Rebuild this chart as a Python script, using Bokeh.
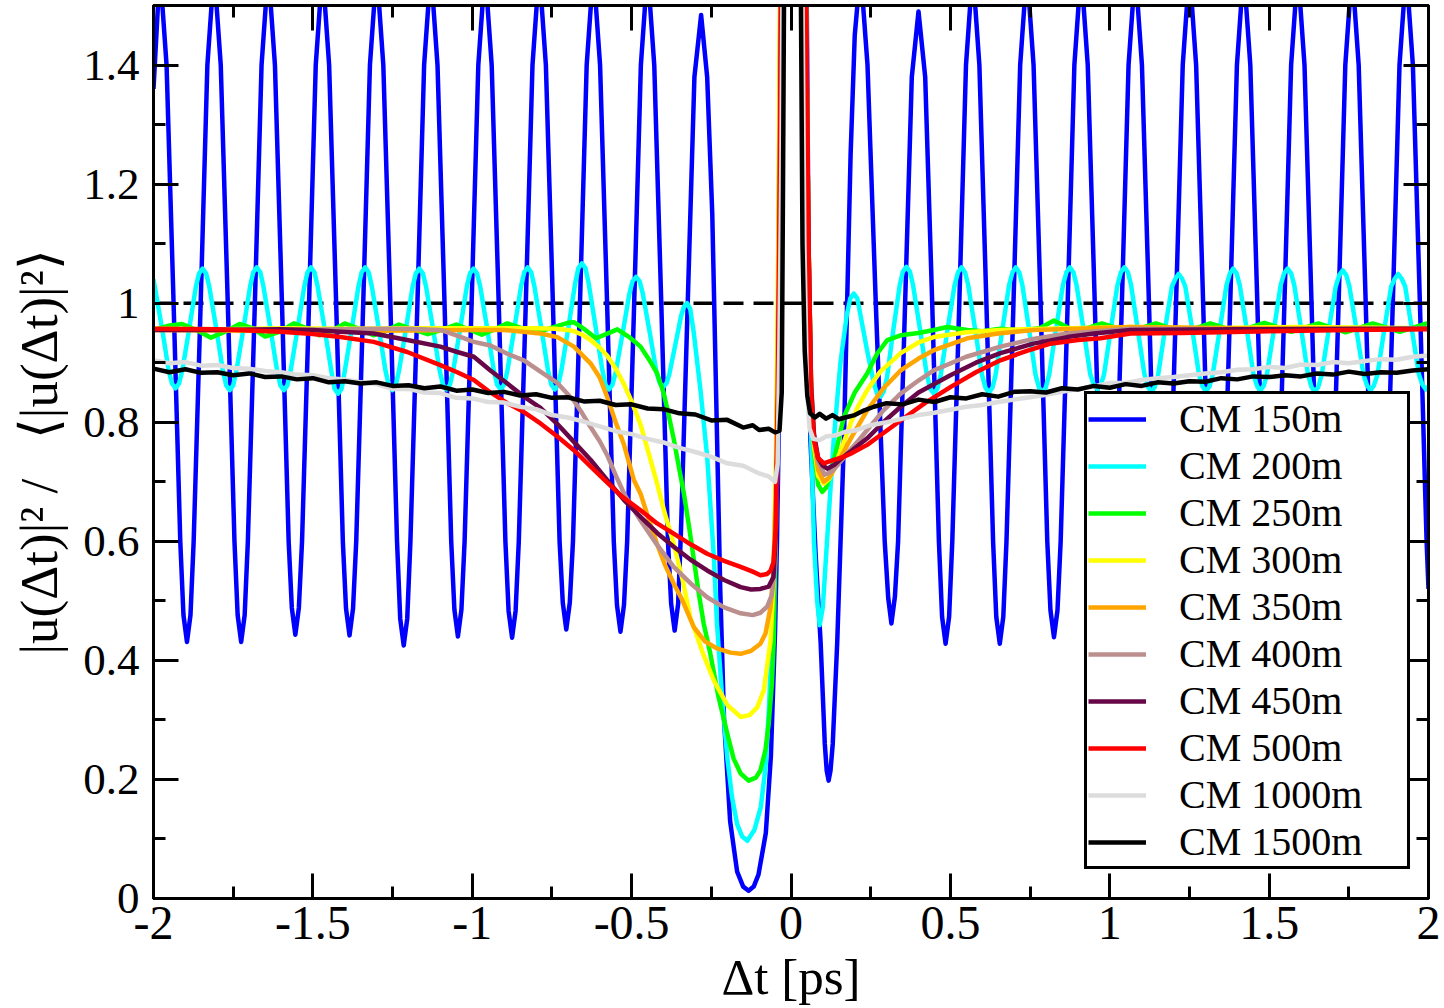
from bokeh.plotting import figure
from bokeh.models import (Range1d, FixedTicker, LinearAxis, Legend, LegendItem,
                          Span, CustomJSTickFormatter)
from bokeh.embed import file_html
from bokeh.resources import INLINE

# ---------------- axes / ticks ----------------
x_ticks = [-2, -1.5, -1, -0.5, 0, 0.5, 1, 1.5, 2]
x_tick_labels = ["-2", "-1.5", "-1", "-0.5", "0", "0.5", "1", "1.5", "2"]
x_minor = [-1.75, -1.25, -0.75, -0.25, 0.25, 0.75, 1.25, 1.75]
y_ticks = [0, 0.2, 0.4, 0.6, 0.8, 1, 1.2, 1.4]
y_tick_labels = ["0", "0.2", "0.4", "0.6", "0.8", "1", "1.2", "1.4"]
y_minor = [0.1, 0.3, 0.5, 0.7, 0.9, 1.1, 1.3, 1.5]
reference_level = 1.0

series_names = ["CM 150m", "CM 200m", "CM 250m", "CM 300m", "CM 350m",
                "CM 400m", "CM 450m", "CM 500m", "CM 1000m", "CM 1500m"]
series_colors = ["#0000ff", "#00ffff", "#00ff00", "#ffff00", "#ffa500",
                 "#bc8f8f", "#670748", "#ff0000", "#dcdcdc", "#000000"]

# ---------------- data (x, y) ----------------
cm150 = [
 (-2.000,1.36),(-1.980,1.56),(-1.959,1.40),(-1.937,1.00),(-1.916,0.60),(-1.906,0.476),(-1.895,0.431),(-1.884,0.476),
 (-1.874,0.60),(-1.852,1.00),(-1.831,1.40),(-1.810,1.56),(-1.789,1.40),(-1.767,1.00),(-1.746,0.60),(-1.736,0.476),(-1.725,0.431),(-1.714,0.476),
 (-1.704,0.60),(-1.682,1.00),(-1.661,1.40),(-1.640,1.56),(-1.619,1.40),(-1.597,1.00),(-1.576,0.60),(-1.566,0.488),(-1.555,0.443),(-1.544,0.488),
 (-1.534,0.60),(-1.512,1.00),(-1.491,1.40),(-1.470,1.56),(-1.449,1.40),(-1.427,1.00),(-1.406,0.60),(-1.396,0.487),(-1.385,0.442),(-1.374,0.487),
 (-1.364,0.60),(-1.342,1.00),(-1.321,1.40),(-1.300,1.56),(-1.279,1.40),(-1.257,1.00),(-1.236,0.60),(-1.226,0.470),(-1.215,0.425),(-1.204,0.470),
 (-1.194,0.60),(-1.172,1.00),(-1.151,1.40),(-1.130,1.56),(-1.109,1.40),(-1.087,1.00),(-1.066,0.60),(-1.056,0.485),(-1.045,0.440),(-1.034,0.485),
 (-1.024,0.60),(-1.002,1.00),(-0.981,1.40),(-0.960,1.56),(-0.939,1.40),(-0.917,1.00),(-0.896,0.60),(-0.886,0.483),(-0.875,0.438),(-0.864,0.483),
 (-0.854,0.60),(-0.832,1.00),(-0.811,1.40),(-0.790,1.56),(-0.769,1.40),(-0.747,1.00),(-0.726,0.60),(-0.716,0.497),(-0.705,0.452),(-0.694,0.497),
 (-0.684,0.60),(-0.662,1.00),(-0.641,1.40),(-0.620,1.56),(-0.599,1.40),(-0.577,1.00),(-0.556,0.60),(-0.546,0.493),(-0.535,0.448),(-0.524,0.493),
 (-0.514,0.60),(-0.492,1.00),(-0.471,1.40),(-0.450,1.56),(-0.429,1.40),(-0.407,1.00),(-0.386,0.60),(-0.376,0.495),(-0.365,0.450),(-0.354,0.495),
 (-0.345,0.62),(-0.324,1.00),(-0.303,1.38),(-0.282,1.484),(-0.263,1.38),(-0.247,1.15),(-0.235,0.85),(-0.222,0.52),
 (-0.210,0.30),(-0.191,0.13),(-0.169,0.045),(-0.150,0.020),(-0.133,0.013),(-0.117,0.020),(-0.102,0.04),(-0.079,0.11),
 (-0.063,0.24),(-0.050,0.45),(-0.044,0.60),(-0.038,0.80),(-0.033,1.20),(-0.029,1.60),(0.005,3.00),(0.048,1.60),
 (0.055,1.10),(0.061,0.77),(0.077,0.58),(0.093,0.43),(0.106,0.26),(0.112,0.215),(0.118,0.198),(0.124,0.215),
 (0.131,0.26),(0.145,0.43),(0.166,0.77),(0.187,1.25),(0.200,1.45),(0.218,1.56),(0.240,1.40),(0.266,1.00),
 (0.294,0.60),(0.305,0.505),(0.315,0.462),(0.326,0.507),
 (0.336,0.60),(0.358,1.00),(0.379,1.38),(0.400,1.49),(0.421,1.38),(0.443,1.00),(0.464,0.60),(0.474,0.473),(0.485,0.428),(0.496,0.473),
 (0.506,0.60),(0.528,1.00),(0.549,1.40),(0.570,1.56),(0.591,1.40),(0.613,1.00),(0.634,0.60),(0.644,0.473),(0.655,0.428),(0.666,0.473),
 (0.676,0.60),(0.698,1.00),(0.719,1.40),(0.740,1.56),(0.761,1.40),(0.783,1.00),(0.804,0.60),(0.814,0.484),(0.825,0.439),(0.836,0.484),
 (0.846,0.60),(0.868,1.00),(0.889,1.40),(0.910,1.56),(0.931,1.40),(0.953,1.00),(0.974,0.60),(0.984,0.485),(0.995,0.440),(1.006,0.485),
 (1.016,0.60),(1.038,1.00),(1.059,1.40),(1.080,1.56),(1.101,1.40),(1.123,1.00),(1.144,0.60),(1.154,0.485),(1.165,0.440),(1.176,0.485),
 (1.186,0.60),(1.208,1.00),(1.229,1.40),(1.250,1.56),(1.271,1.40),(1.293,1.00),(1.314,0.60),(1.324,0.485),(1.335,0.440),(1.346,0.485),
 (1.356,0.60),(1.378,1.00),(1.399,1.40),(1.420,1.56),(1.441,1.40),(1.463,1.00),(1.484,0.60),(1.494,0.485),(1.505,0.440),(1.516,0.485),
 (1.526,0.60),(1.548,1.00),(1.569,1.40),(1.590,1.56),(1.611,1.40),(1.633,1.00),(1.654,0.60),(1.664,0.485),(1.675,0.440),(1.686,0.485),
 (1.696,0.60),(1.718,1.00),(1.739,1.40),(1.760,1.56),(1.781,1.40),(1.803,1.00),(1.824,0.60),(1.834,0.485),(1.845,0.440),(1.856,0.485),
 (1.866,0.60),(1.888,1.00),(1.909,1.40),(1.930,1.56),(1.951,1.40),(1.973,1.00),(1.994,0.60),(2.000,0.52),
]

cm200 = [
 (-2.000,1.040),(-1.973,0.957),(-1.952,0.886),(-1.942,0.865),(-1.931,0.857),(-1.920,0.865),
 (-1.910,0.886),(-1.888,0.957),(-1.867,1.028),(-1.857,1.050),(-1.846,1.058),(-1.835,1.050),(-1.825,1.028),(-1.803,0.957),(-1.782,0.886),(-1.772,0.862),(-1.761,0.854),(-1.750,0.862),
 (-1.740,0.886),(-1.718,0.957),(-1.697,1.028),(-1.687,1.052),(-1.676,1.060),(-1.665,1.052),(-1.655,1.028),(-1.633,0.957),(-1.612,0.886),(-1.602,0.862),(-1.591,0.854),(-1.580,0.862),
 (-1.570,0.886),(-1.548,0.957),(-1.527,1.028),(-1.517,1.052),(-1.506,1.060),(-1.495,1.052),(-1.485,1.028),(-1.463,0.957),(-1.442,0.886),(-1.432,0.856),(-1.421,0.848),(-1.410,0.856),
 (-1.400,0.886),(-1.378,0.957),(-1.357,1.028),(-1.347,1.052),(-1.336,1.060),(-1.325,1.052),(-1.315,1.028),(-1.293,0.957),(-1.272,0.886),(-1.262,0.862),(-1.251,0.854),(-1.240,0.862),
 (-1.230,0.886),(-1.208,0.957),(-1.187,1.028),(-1.177,1.050),(-1.166,1.058),(-1.155,1.050),(-1.145,1.028),(-1.123,0.957),(-1.102,0.886),(-1.092,0.863),(-1.081,0.855),(-1.070,0.863),
 (-1.060,0.886),(-1.038,0.957),(-1.017,1.028),(-1.007,1.050),(-0.996,1.058),(-0.985,1.050),(-0.975,1.028),(-0.953,0.957),(-0.932,0.886),(-0.922,0.863),(-0.911,0.855),(-0.900,0.863),
 (-0.890,0.886),(-0.868,0.957),(-0.847,1.028),(-0.837,1.052),(-0.826,1.060),(-0.815,1.052),(-0.805,1.028),(-0.783,0.957),(-0.762,0.886),(-0.752,0.863),(-0.741,0.855),(-0.730,0.863),
 (-0.720,0.888),(-0.698,0.960),(-0.677,1.034),(-0.667,1.059),(-0.656,1.067),(-0.645,1.059),(-0.635,1.034),(-0.613,0.960),(-0.592,0.888),(-0.582,0.863),(-0.571,0.855),(-0.560,0.863),
 (-0.550,0.884),(-0.528,0.950),(-0.507,1.016),(-0.497,1.037),(-0.486,1.044),(-0.475,1.037),(-0.465,1.016),(-0.443,0.950),(-0.422,0.884),(-0.412,0.866),(-0.401,0.859),(-0.390,0.866),
 (-0.382,0.880),(-0.363,0.930),(-0.345,0.978),(-0.336,0.994),(-0.326,1.000),(-0.316,0.990),(-0.305,0.950),(-0.284,0.854),
 (-0.263,0.742),(-0.242,0.574),(-0.232,0.460),(-0.215,0.330),(-0.200,0.237),(-0.185,0.170),(-0.169,0.125),(-0.153,0.104),
 (-0.137,0.097),(-0.115,0.115),(-0.095,0.153),(-0.080,0.220),(-0.069,0.320),(-0.060,0.440),(-0.054,0.546),(-0.045,0.750),
 (-0.037,1.100),(-0.031,1.600),(0.005,3.000),(0.045,1.600),(0.055,1.000),(0.063,0.780),(0.072,0.600),(0.082,0.500),
 (0.090,0.459),(0.100,0.490),(0.113,0.600),(0.134,0.770),(0.155,0.900),(0.175,0.980),(0.186,1.008),(0.197,1.016),
 (0.208,1.008),(0.218,0.980),(0.239,0.920),(0.260,0.865),(0.270,0.848),(0.281,0.843),(0.291,0.852),(0.301,0.875),
 (0.321,0.955),(0.341,1.030),(0.351,1.053),(0.362,1.061),(0.373,1.053),(0.383,1.030),(0.405,0.955),(0.426,0.880),
 (0.437,0.856),(0.448,0.848),(0.459,0.856),
 (0.470,0.880),(0.491,0.955),(0.513,1.030),(0.524,1.052),(0.535,1.060),(0.546,1.052),(0.556,1.030),(0.578,0.955),(0.599,0.880),(0.610,0.858),(0.621,0.850),(0.632,0.858),
 (0.642,0.880),(0.663,0.955),(0.684,1.030),(0.695,1.052),(0.705,1.060),(0.716,1.052),(0.726,1.030),(0.747,0.955),(0.767,0.880),(0.778,0.858),(0.788,0.850),(0.799,0.858),
 (0.810,0.880),(0.831,0.955),(0.853,1.030),(0.864,1.052),(0.875,1.060),(0.886,1.052),(0.896,1.030),(0.918,0.955),(0.939,0.880),(0.950,0.863),(0.961,0.855),(0.972,0.863),
 (0.982,0.880),(1.003,0.955),(1.024,1.030),(1.035,1.052),(1.046,1.060),(1.057,1.052),(1.067,1.030),(1.088,0.955),(1.109,0.880),(1.120,0.859),(1.130,0.851),(1.141,0.859),
 (1.152,0.880),(1.173,0.955),(1.195,1.028),(1.206,1.041),(1.216,1.049),(1.227,1.041),(1.237,1.028),(1.259,0.955),(1.280,0.880),(1.291,0.860),(1.302,0.852),(1.313,0.860),
 (1.323,0.880),(1.345,0.955),(1.366,1.030),(1.377,1.050),(1.387,1.058),(1.398,1.050),(1.408,1.030),(1.430,0.955),(1.451,0.880),(1.462,0.861),(1.472,0.853),(1.483,0.861),
 (1.493,0.880),(1.515,0.955),(1.536,1.030),(1.547,1.050),(1.558,1.058),(1.569,1.050),(1.579,1.030),(1.601,0.955),(1.622,0.880),(1.633,0.859),(1.643,0.851),(1.654,0.859),
 (1.665,0.880),(1.687,0.955),(1.709,1.028),(1.720,1.047),(1.731,1.055),(1.742,1.047),(1.752,1.028),(1.774,0.955),(1.796,0.880),(1.807,0.862),(1.818,0.854),(1.829,0.862),
 (1.840,0.880),(1.861,0.955),(1.883,1.028),(1.894,1.041),(1.905,1.049),(1.916,1.041),(1.927,1.028),(1.948,0.955),(1.970,0.880),(1.981,0.863),(1.992,0.855),(2.000,0.860),
]

cm250 = [
 (-2.000,0.955),(-1.955,0.962),(-1.910,0.965),(-1.865,0.955),(-1.820,0.942),(-1.775,0.952),(-1.730,0.965),
 (-1.690,0.958),(-1.650,0.944),(-1.605,0.952),(-1.560,0.966),(-1.520,0.958),(-1.480,0.946),(-1.440,0.954),
 (-1.400,0.966),(-1.355,0.957),(-1.310,0.946),(-1.270,0.954),(-1.230,0.964),(-1.185,0.956),(-1.140,0.948),
 (-1.095,0.955),(-1.050,0.964),(-1.010,0.956),(-0.970,0.947),(-0.930,0.956),(-0.890,0.966),(-0.845,0.958),
 (-0.800,0.950),(-0.750,0.959),(-0.700,0.967),(-0.681,0.968),(-0.645,0.955),(-0.612,0.941),(-0.580,0.948),
 (-0.545,0.956),(-0.505,0.942),(-0.472,0.927),(-0.445,0.905),(-0.420,0.882),(-0.400,0.850),(-0.385,0.815),
 (-0.368,0.772),(-0.350,0.720),(-0.336,0.680),(-0.320,0.625),(-0.305,0.570),(-0.290,0.515),(-0.274,0.462),
 (-0.253,0.411),(-0.228,0.340),(-0.200,0.277),(-0.180,0.235),(-0.158,0.210),(-0.133,0.198),(-0.110,0.203),
 (-0.096,0.215),(-0.080,0.250),(-0.070,0.294),(-0.060,0.360),(-0.054,0.434),(-0.047,0.650),(-0.040,1.000),
 (-0.033,1.600),(0.005,3.000),(0.045,1.600),(0.055,1.100),(0.063,0.850),(0.072,0.750),(0.085,0.695),
 (0.098,0.683),(0.110,0.690),(0.125,0.715),(0.145,0.760),(0.166,0.809),(0.200,0.850),(0.239,0.882),
 (0.270,0.915),(0.302,0.938),(0.344,0.946),(0.400,0.950),(0.448,0.955),(0.490,0.960),(0.553,0.955),
 (0.600,0.953),(0.657,0.957),(0.720,0.954),(0.780,0.958),(0.825,0.971),(0.866,0.960),(0.900,0.953),
 (0.975,0.966),(1.060,0.952),(1.145,0.966),(1.230,0.951),(1.315,0.966),(1.400,0.952),(1.485,0.967),
 (1.570,0.952),(1.655,0.966),(1.740,0.951),(1.825,0.966),(1.910,0.952),(1.995,0.966),(2.000,0.965),
]

cm300 = [
 (-2.000,0.957),(-1.800,0.956),(-1.600,0.958),(-1.400,0.957),(-1.200,0.958),(-1.000,0.958),(-0.800,0.958),
 (-0.740,0.957),(-0.700,0.955),(-0.681,0.953),(-0.655,0.947),(-0.629,0.938),(-0.600,0.925),(-0.577,0.912),
 (-0.550,0.890),(-0.525,0.865),(-0.500,0.835),(-0.472,0.796),(-0.445,0.745),(-0.420,0.697),(-0.395,0.645),
 (-0.368,0.596),(-0.340,0.535),(-0.315,0.470),(-0.305,0.456),(-0.275,0.410),(-0.242,0.366),(-0.200,0.325),
 (-0.158,0.305),(-0.130,0.308),(-0.106,0.321),(-0.085,0.350),(-0.064,0.434),(-0.055,0.530),(-0.047,0.750),
 (-0.040,1.100),(-0.033,1.600),(0.005,3.000),(0.045,1.600),(0.055,1.100),(0.063,0.860),(0.072,0.760),
 (0.085,0.710),(0.103,0.697),(0.120,0.705),(0.140,0.730),(0.165,0.765),(0.187,0.798),(0.210,0.826),
 (0.239,0.854),(0.280,0.885),(0.344,0.916),(0.400,0.934),(0.448,0.943),(0.550,0.951),(0.657,0.955),
 (0.800,0.957),(1.065,0.960),(1.300,0.958),(1.600,0.960),(2.000,0.958),
]

cm350 = [
 (-2.000,0.955),(-1.500,0.953),(-1.000,0.955),(-0.900,0.955),(-0.786,0.949),(-0.733,0.943),(-0.681,0.927),
 (-0.629,0.899),(-0.600,0.875),(-0.577,0.843),(-0.550,0.800),(-0.525,0.764),(-0.493,0.703),(-0.472,0.680),
 (-0.445,0.635),(-0.420,0.595),(-0.395,0.560),(-0.368,0.529),(-0.340,0.500),(-0.305,0.456),(-0.270,0.432),
 (-0.232,0.420),(-0.190,0.413),(-0.158,0.411),(-0.125,0.416),(-0.096,0.428),(-0.080,0.445),(-0.064,0.490),
 (-0.055,0.550),(-0.047,0.700),(-0.040,1.000),(-0.032,1.600),(0.005,3.000),(0.045,1.600),(0.055,1.100),
 (0.063,0.860),(0.072,0.770),(0.085,0.720),(0.103,0.700),(0.120,0.707),(0.140,0.725),(0.165,0.750),
 (0.190,0.775),(0.239,0.820),(0.290,0.857),(0.344,0.887),(0.400,0.907),(0.448,0.921),(0.553,0.941),
 (0.650,0.949),(0.761,0.955),(0.900,0.957),(1.065,0.960),(1.400,0.958),(2.000,0.958),
]

cm400 = [
 (-2.000,0.956),(-1.600,0.955),(-1.300,0.957),(-1.200,0.957),(-1.100,0.955),(-1.050,0.946),(-0.995,0.935),
 (-0.943,0.929),(-0.890,0.915),(-0.838,0.904),(-0.786,0.885),(-0.733,0.866),(-0.681,0.836),(-0.655,0.815),
 (-0.629,0.792),(-0.600,0.768),(-0.577,0.745),(-0.545,0.705),(-0.520,0.676),(-0.472,0.635),(-0.420,0.594),
 (-0.368,0.557),(-0.310,0.527),(-0.263,0.506),(-0.210,0.489),(-0.158,0.479),(-0.120,0.476),(-0.096,0.480),
 (-0.075,0.490),(-0.060,0.510),(-0.050,0.560),(-0.042,0.750),(-0.036,1.100),(-0.031,1.600),(0.005,3.000),
 (0.045,1.600),(0.055,1.100),(0.063,0.870),(0.072,0.780),(0.085,0.735),(0.105,0.712),(0.125,0.716),
 (0.150,0.730),(0.180,0.750),(0.210,0.768),(0.239,0.787),(0.290,0.820),(0.344,0.848),(0.400,0.870),
 (0.448,0.887),(0.550,0.910),(0.657,0.927),(0.760,0.940),(0.867,0.949),(1.065,0.957),(1.400,0.956),
 (2.000,0.957),
]

cm450 = [
 (-2.000,0.955),(-1.800,0.955),(-1.600,0.956),(-1.500,0.955),(-1.413,0.952),(-1.309,0.949),(-1.204,0.938),
 (-1.100,0.927),(-1.047,0.918),(-0.995,0.910),(-0.943,0.887),(-0.890,0.865),(-0.838,0.843),(-0.786,0.824),
 (-0.733,0.797),(-0.681,0.767),(-0.629,0.737),(-0.577,0.703),(-0.525,0.670),(-0.472,0.641),(-0.420,0.614),
 (-0.368,0.591),(-0.315,0.569),(-0.263,0.551),(-0.210,0.535),(-0.158,0.523),(-0.125,0.519),(-0.096,0.520),
 (-0.070,0.524),(-0.055,0.540),(-0.047,0.620),(-0.040,0.850),(-0.034,1.200),(-0.030,1.600),(0.005,3.000),
 (0.045,1.600),(0.055,1.100),(0.063,0.860),(0.072,0.780),(0.085,0.740),(0.100,0.727),(0.114,0.722),
 (0.135,0.728),(0.160,0.740),(0.190,0.752),(0.239,0.773),(0.290,0.800),(0.344,0.826),(0.400,0.850),
 (0.500,0.879),(0.580,0.900),(0.657,0.916),(0.760,0.932),(0.867,0.943),(0.950,0.949),(1.065,0.955),
 (1.400,0.956),(2.000,0.957),
]

cm500 = [
 (-2.000,0.957),(-1.800,0.956),(-1.600,0.952),(-1.500,0.948),(-1.413,0.943),(-1.309,0.935),(-1.204,0.918),
 (-1.100,0.896),(-1.047,0.884),(-0.995,0.871),(-0.943,0.850),(-0.890,0.832),(-0.838,0.817),(-0.786,0.798),
 (-0.733,0.776),(-0.681,0.753),(-0.629,0.726),(-0.587,0.704),(-0.530,0.675),(-0.472,0.652),(-0.420,0.630),
 (-0.368,0.613),(-0.315,0.595),(-0.263,0.579),(-0.210,0.567),(-0.158,0.557),(-0.120,0.549),(-0.096,0.543),
 (-0.075,0.545),(-0.064,0.551),(-0.055,0.565),(-0.048,0.620),(-0.041,0.850),(-0.035,1.200),(-0.030,1.600),
 (0.005,3.000),(0.045,1.600),(0.055,1.100),(0.063,0.850),(0.072,0.770),(0.085,0.740),(0.103,0.731),
 (0.125,0.735),(0.166,0.742),(0.187,0.747),(0.239,0.762),(0.290,0.782),(0.344,0.803),(0.420,0.832),
 (0.500,0.859),(0.580,0.884),(0.657,0.904),(0.740,0.920),(0.814,0.932),(0.900,0.938),(0.971,0.941),
 (1.065,0.949),(1.225,0.950),(1.500,0.953),(1.750,0.955),(2.000,0.956),
]

cm1000 = [
 (-2.00,0.904),(-1.95,0.899),(-1.90,0.901),(-1.85,0.895),(-1.80,0.896),(-1.75,0.891),(-1.70,0.890),
 (-1.65,0.886),(-1.60,0.884),(-1.55,0.880),(-1.50,0.879),(-1.45,0.874),(-1.40,0.872),(-1.35,0.867),
 (-1.30,0.864),(-1.25,0.856),(-1.20,0.856),(-1.15,0.850),(-1.10,0.849),(-1.05,0.841),(-1.00,0.840),
 (-0.95,0.834),(-0.90,0.833),(-0.85,0.826),(-0.80,0.822),(-0.75,0.812),(-0.70,0.808),(-0.65,0.801),
 (-0.60,0.793),(-0.55,0.785),(-0.50,0.780),(-0.45,0.772),(-0.40,0.766),(-0.35,0.757),(-0.30,0.750),
 (-0.25,0.742),(-0.20,0.731),(-0.15,0.727),(-0.10,0.714),(-0.07,0.709),(-0.05,0.700),(-0.042,0.730),
 (-0.036,0.950),(-0.030,1.250),(-0.026,1.600),(0.005,3.000),(0.035,1.600),(0.042,1.100),(0.050,0.860),
 (0.058,0.790),(0.07,0.772),(0.09,0.770),(0.11,0.776),(0.14,0.778),(0.17,0.784),(0.20,0.786),(0.25,0.795),
 (0.30,0.800),(0.35,0.806),(0.40,0.812),(0.45,0.816),(0.50,0.821),(0.55,0.826),(0.60,0.829),(0.65,0.834),
 (0.70,0.838),(0.75,0.842),(0.80,0.846),(0.85,0.851),(0.90,0.856),(0.95,0.860),(1.00,0.866),(1.05,0.866),
 (1.10,0.871),(1.15,0.874),(1.20,0.876),(1.25,0.879),(1.30,0.882),(1.35,0.884),(1.40,0.888),(1.45,0.889),
 (1.50,0.893),(1.55,0.891),(1.60,0.897),(1.65,0.896),(1.70,0.901),(1.75,0.899),(1.80,0.903),(1.85,0.906),
 (1.90,0.905),(1.95,0.910),(2.00,0.912),
]

cm1500 = [
 (-2.00,0.890),(-1.95,0.884),(-1.90,0.889),(-1.85,0.883),(-1.80,0.884),(-1.75,0.879),(-1.70,0.882),
 (-1.65,0.876),(-1.60,0.877),(-1.55,0.872),(-1.50,0.874),(-1.45,0.867),(-1.40,0.869),(-1.35,0.865),
 (-1.30,0.867),(-1.25,0.861),(-1.20,0.862),(-1.15,0.857),(-1.10,0.860),(-1.05,0.853),(-1.00,0.855),
 (-0.95,0.849),(-0.90,0.851),(-0.85,0.845),(-0.80,0.847),(-0.75,0.841),(-0.70,0.842),(-0.65,0.835),
 (-0.60,0.836),(-0.55,0.829),(-0.50,0.830),(-0.45,0.823),(-0.40,0.822),(-0.35,0.815),(-0.30,0.813),
 (-0.25,0.803),(-0.20,0.804),(-0.15,0.791),(-0.12,0.795),(-0.10,0.787),(-0.07,0.789),(-0.05,0.783),
 (-0.036,0.786),(-0.029,0.850),(-0.025,1.200),(-0.021,1.600),(0.005,3.000),(0.030,1.600),(0.036,1.100),
 (0.043,0.920),(0.051,0.845),(0.060,0.815),(0.075,0.808),(0.09,0.814),(0.11,0.806),(0.13,0.812),
 (0.15,0.805),(0.17,0.808),(0.20,0.812),(0.23,0.820),(0.26,0.826),(0.30,0.832),(0.35,0.830),(0.40,0.838),
 (0.45,0.834),(0.50,0.842),(0.55,0.840),(0.60,0.847),(0.65,0.843),(0.70,0.851),(0.75,0.852),(0.80,0.850),
 (0.85,0.857),(0.90,0.855),(0.95,0.861),(1.00,0.858),(1.05,0.864),(1.10,0.861),(1.15,0.867),(1.20,0.865),
 (1.25,0.869),(1.30,0.868),(1.35,0.874),(1.40,0.872),(1.45,0.877),(1.50,0.876),(1.55,0.879),(1.60,0.877),
 (1.65,0.882),(1.70,0.880),(1.75,0.885),(1.80,0.881),(1.85,0.884),(1.90,0.883),(1.95,0.887),(2.00,0.889),
]

all_series = [cm150, cm200, cm250, cm300, cm350, cm400, cm450, cm500, cm1000, cm1500]

# ---------------- figure ----------------
FONT = "Liberation Serif"
NBSP = "\u00a0"

p = figure(width=1444, height=1008,
           x_range=Range1d(-2, 2), y_range=Range1d(0, 1.5),
           output_backend="svg", toolbar_location=None,
           min_border_left=153, min_border_right=16,
           min_border_top=5, min_border_bottom=110)
p.background_fill_color = "white"
p.border_fill_color = "white"
p.xgrid.visible = False
p.ygrid.visible = False
p.outline_line_color = "black"
p.outline_line_width = 3


def style_axis(ax, ticks, minor, labels, show_labels, size="44px"):
    ax.ticker = FixedTicker(ticks=ticks, minor_ticks=minor)
    ax.axis_line_color = "black"
    ax.axis_line_width = 3
    ax.major_tick_in = 25
    ax.major_tick_out = 0
    ax.minor_tick_in = 12
    ax.minor_tick_out = 0
    ax.major_tick_line_width = 3
    ax.minor_tick_line_width = 3
    ax.major_tick_line_color = "black"
    ax.minor_tick_line_color = "black"
    if show_labels:
        ax.major_label_overrides = {t: s for t, s in zip(ticks, labels)}
        ax.major_label_text_font = FONT
        ax.major_label_text_font_size = size
        ax.major_label_text_color = "black"
    else:
        ax.formatter = CustomJSTickFormatter(code="return ''")
        ax.major_label_text_font_size = "0px"
        ax.major_label_standoff = 0


style_axis(p.xaxis[0], x_ticks, x_minor, x_tick_labels, True, "48px")
style_axis(p.yaxis[0], y_ticks, y_minor, y_tick_labels, True, "45px")
p.xaxis[0].major_label_standoff = 8
p.yaxis[0].major_label_standoff = 14

p.xaxis[0].axis_label = "\u0394t [ps]"
p.yaxis[0].axis_label = ("|u(\u0394t)|\u00b2 /" + NBSP * 3 + "\u27e8|u(\u0394t)|\u00b2\u27e9")
for ax in (p.xaxis[0], p.yaxis[0]):
    ax.axis_label_text_font = FONT
    ax.axis_label_text_font_style = "normal"
    ax.axis_label_text_color = "black"
p.xaxis[0].axis_label_text_font_size = "51px"
p.yaxis[0].axis_label_text_font_size = "53px"
p.xaxis[0].axis_label_standoff = 7
p.yaxis[0].axis_label_standoff = 12

top_axis = LinearAxis()
right_axis = LinearAxis()
style_axis(top_axis, x_ticks, x_minor, x_tick_labels, False)
style_axis(right_axis, y_ticks, y_minor, y_tick_labels, False)
p.add_layout(top_axis, "above")
p.add_layout(right_axis, "right")

# reference line at 1
p.add_layout(Span(location=reference_level, dimension="width", line_color="black",
                  line_width=3.5, line_dash="20 10", level="underlay"))

items = []
for name, color, data in zip(series_names, series_colors, all_series):
    xs = [d[0] for d in data]
    ys = [d[1] for d in data]
    r = p.line(xs, ys, line_color=color, line_width=4.5, line_join="round")
    items.append(LegendItem(label=name, renderers=[r]))

legend = Legend(items=items, location=(931, 29),
                label_text_font=FONT, label_text_font_size="40px",
                label_text_color="black",
                glyph_width=58, glyph_height=40, label_height=40, label_width=227,
                label_standoff=33, padding=1, spacing=0, margin=0,
                border_line_color="black", border_line_width=3, border_line_alpha=1.0,
                background_fill_color="white", background_fill_alpha=1.0)
p.add_layout(legend)

open("out.html", "w").write(file_html(p, INLINE))
